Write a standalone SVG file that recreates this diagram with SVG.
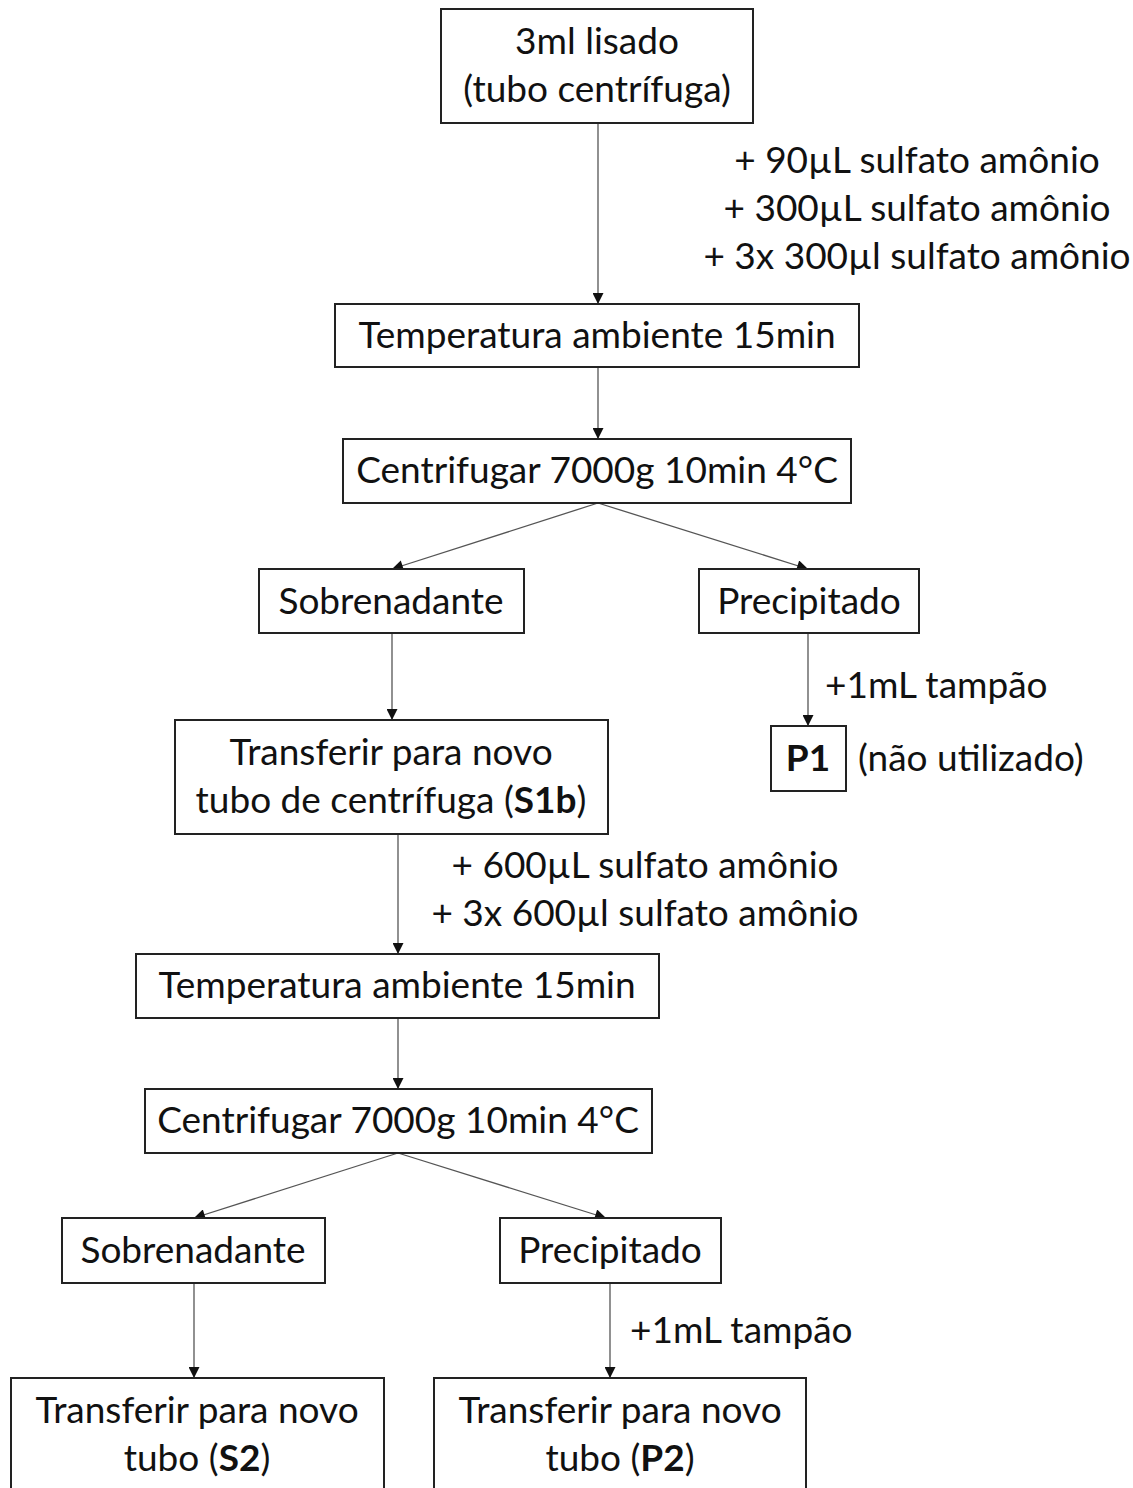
<svg xmlns="http://www.w3.org/2000/svg" width="1133" height="1488" viewBox="0 0 1133 1488">
<style>
.box{fill:#fff;stroke:#222;stroke-width:2}
.t{font-family:Lato,"Liberation Sans",sans-serif;font-size:37px;fill:#111;text-anchor:middle}
.l{font-family:Lato,"Liberation Sans",sans-serif;font-size:37px;fill:#111}
.c{fill:none;stroke:#555;stroke-width:1.3;marker-end:url(#ah)}
.b{font-weight:bold}
</style>
<defs>
<marker id="ah" viewBox="0 0 10 10" refX="10" refY="5" markerWidth="12" markerHeight="11" markerUnits="userSpaceOnUse" orient="auto">
<path d="M0,0 L10,5 L0,10 z" fill="#111"/>
</marker>
</defs>
<rect width="1133" height="1488" fill="#fff"/>
<g id="connectors">
<line class="c" x1="598" y1="123" x2="598" y2="304"/>
<line class="c" x1="598" y1="367" x2="598" y2="439"/>
<line class="c" x1="598" y1="503" x2="392" y2="569"/>
<line class="c" x1="598" y1="503" x2="808" y2="569"/>
<line class="c" x1="392" y1="633" x2="392" y2="720"/>
<line class="c" x1="808" y1="633" x2="808" y2="726"/>
<line class="c" x1="398" y1="834" x2="398" y2="954"/>
<line class="c" x1="398" y1="1018" x2="398" y2="1089"/>
<line class="c" x1="398" y1="1153" x2="194" y2="1218"/>
<line class="c" x1="398" y1="1153" x2="606" y2="1218"/>
<line class="c" x1="194" y1="1283" x2="194" y2="1378"/>
<line class="c" x1="610" y1="1283" x2="610" y2="1378"/>
<text class="t" x="917" y="173">+ 90µL sulfato amônio</text>
<text class="t" x="917" y="221">+ 300µL sulfato amônio</text>
<text class="t" x="917" y="269">+ 3x 300µl sulfato amônio</text>
<text class="l" x="825" y="698">+1mL tampão</text>
<text class="t" x="645" y="878">+ 600µL sulfato amônio</text>
<text class="t" x="645" y="926">+ 3x 600µl sulfato amônio</text>
<text class="l" x="630" y="1343">+1mL tampão</text>
</g>
<g id="n1"><rect class="box" x="441" y="9" width="312" height="114"/>
<text class="t" x="597" y="54">3ml lisado</text><text class="t" x="597" y="102">(tubo centrífuga)</text></g>
<g id="n2"><rect class="box" x="335" y="304" width="524" height="63"/>
<text class="t" x="597" y="348">Temperatura ambiente 15min</text></g>
<g id="n3"><rect class="box" x="343" y="439" width="508" height="64"/>
<text class="t" x="597" y="483">Centrifugar 7000g 10min 4°C</text></g>
<g id="n4"><rect class="box" x="259" y="569" width="265" height="64"/>
<text class="t" x="391" y="614">Sobrenadante</text></g>
<g id="n5"><rect class="box" x="699" y="569" width="220" height="64"/>
<text class="t" x="809" y="614">Precipitado</text></g>
<g id="n6"><rect class="box" x="175" y="720" width="433" height="114"/>
<text class="t" x="391" y="765">Transferir para novo</text><text class="t" x="391" y="813">tubo de centrífuga (<tspan class="b">S1b</tspan>)</text></g>
<g id="n7"><rect class="box" x="771" y="726" width="75" height="65"/>
<text class="t b" x="808" y="771">P1</text></g>
<text class="l" x="858" y="771">(não utilizado)</text>
<g id="n8"><rect class="box" x="136" y="954" width="523" height="64"/>
<text class="t" x="397" y="998">Temperatura ambiente 15min</text></g>
<g id="n9"><rect class="box" x="145" y="1089" width="507" height="64"/>
<text class="t" x="398" y="1133">Centrifugar 7000g 10min 4°C</text></g>
<g id="n10"><rect class="box" x="62" y="1218" width="263" height="65"/>
<text class="t" x="193" y="1263">Sobrenadante</text></g>
<g id="n11"><rect class="box" x="500" y="1218" width="221" height="65"/>
<text class="t" x="610" y="1263">Precipitado</text></g>
<g id="n12"><rect class="box" x="11" y="1378" width="373" height="130"/>
<text class="t" x="197" y="1423">Transferir para novo</text><text class="t" x="197" y="1471">tubo (<tspan class="b">S2</tspan>)</text></g>
<g id="n13"><rect class="box" x="434" y="1378" width="372" height="130"/>
<text class="t" x="620" y="1423">Transferir para novo</text><text class="t" x="620" y="1471">tubo (<tspan class="b">P2</tspan>)</text></g>
</svg>
